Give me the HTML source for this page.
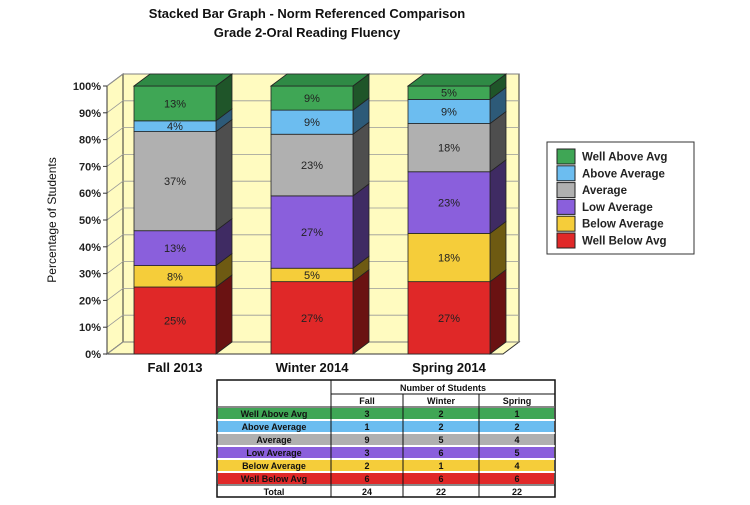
<!DOCTYPE html>
<html><head><meta charset="utf-8"><style>
body{margin:0;background:#fff;width:750px;height:500px;overflow:hidden;font-family:"Liberation Sans",Arial,sans-serif}
svg text{font-family:"Liberation Sans",Arial,sans-serif}
</style></head><body>
<svg id="c" width="750" height="500" viewBox="0 0 750 500">
<text x="307" y="18" text-anchor="middle" font-size="13" font-weight="bold" fill="#111">Stacked Bar Graph - Norm Referenced Comparison</text>
<text x="307" y="37" text-anchor="middle" font-size="13" font-weight="bold" fill="#111">Grade 2-Oral Reading Fluency</text>
<text transform="translate(56,220) rotate(-90)" text-anchor="middle" font-size="12" fill="#111">Percentage of Students</text>
<g id="plot"></g>
<g id="legend"></g>
<g id="table"></g>
</svg>
<script>
const categories=["Fall 2013","Winter 2014","Spring 2014"];
const seriesNames=["Well Below Avg","Below Average","Low Average","Average","Above Average","Well Above Avg"];
const wellBelow=[25,27,27];
const below=[8,5,18];
const low=[13,27,23];
const average=[37,23,18];
const above=[4,9,9];
const wellAbove=[13,9,5];
const yTicks=[0,10,20,30,40,50,60,70,80,90,100];
const tableCols=["Fall","Winter","Spring"];
const countsWellAbove=[3,2,1];
const countsAbove=[1,2,2];
const countsAverage=[9,5,4];
const countsLow=[3,6,5];
const countsBelow=[2,1,4];
const countsWellBelow=[6,6,6];
const totals=[24,22,22];

const NS="http://www.w3.org/2000/svg";
const colors=["#e02828","#f5cd3a","#8a5fdc","#b0b0b0","#6cbdf0","#3fa655"];
const sideColors=["#6a1212","#6e5a12","#3f2b63","#4e4e4e","#2d5a78","#1f5529"];
const topColors=["#b02020","#c8a72e","#6e4bb4","#8d8d8d","#569ac6","#2f8a45"];
const series=[wellBelow,below,low,average,above,wellAbove];
const X0=107,Y0=354,Y100=86,DX=16,DY=-12;
const y=v=>Y0-(v/100)*(Y0-Y100);
const bw=82, step=137, firstX=134;
const xb=i=>firstX+i*step;
function el(tag,attrs,parent){const e=document.createElementNS(NS,tag);for(const k in attrs)e.setAttribute(k,attrs[k]);parent.appendChild(e);return e;}
const plot=document.getElementById('plot');
// walls
let w=el('polygon',{points:`${X0},${Y0} ${X0+DX},${Y0+DY} ${X0+DX},${Y100+DY} ${X0},${Y100}`,fill:'#fffbc0',stroke:'#333','stroke-width':1},plot);

const R=519;
w=el('rect',{x:X0+DX,y:Y100+DY,width:R-X0-DX,height:Y0-Y100,fill:'#fffbc0',stroke:'#333','stroke-width':1},plot);

w=el('polygon',{points:`${X0},${Y0} ${X0+DX},${Y0+DY} ${R},${Y0+DY} ${R-DX},${Y0}`,fill:'#fffbc0',stroke:'#333','stroke-width':1},plot);

yTicks.forEach(t=>{
  const g=el('polyline',{points:`${X0},${y(t)} ${X0+DX},${y(t)+DY} ${R},${y(t)+DY}`,fill:'none',stroke:'#999','stroke-width':0.8},plot);
  
  const tl=el('line',{x1:X0-4,y1:y(t),x2:X0,y2:y(t),stroke:'#333'},plot);
  
  const tx=el('text',{x:X0-6,y:y(t)+4,'text-anchor':'end','font-size':11,'font-weight':'bold',fill:'#222'},plot);
  tx.textContent=t+'%';
  
});
el('line',{x1:X0,y1:Y0,x2:X0,y2:Y100,stroke:'#333'},plot);
categories.forEach((c,i)=>{
  let cum=0;const x=xb(i);
  series.forEach((s,k)=>{
    const v=s[i];const y1=y(cum),y2=y(cum+v);cum+=v;
    const g=el('g',{},plot);
    
    
    el('polygon',{points:`${x+bw},${y1} ${x+bw+DX},${y1+DY} ${x+bw+DX},${y2+DY} ${x+bw},${y2}`,fill:sideColors[k],stroke:'#222','stroke-width':0.8},g);
    el('rect',{x:x,y:y2,width:bw,height:y1-y2,fill:colors[k],stroke:'#222','stroke-width':0.8},g);
    if(k===series.length-1)el('polygon',{points:`${x},${y2} ${x+DX},${y2+DY} ${x+bw+DX},${y2+DY} ${x+bw},${y2}`,fill:topColors[k],stroke:'#222','stroke-width':0.8},g);
    const t=el('text',{x:x+bw/2,y:(y1+y2)/2+4,'text-anchor':'middle','font-size':11,fill:'#222'},g);
    t.textContent=v+'%';
  });
  const lab=el('text',{x:x+bw/2,y:372,'text-anchor':'middle','font-size':13,'font-weight':'bold','font-family':'Liberation Serif',fill:'#111'},plot);
  lab.setAttribute('font-family','"Liberation Serif",serif');
  lab.textContent=c;
  
});
// legend
const lg=document.getElementById('legend');
const lb=el('rect',{x:547,y:142,width:147,height:112,fill:'#fff',stroke:'#333','stroke-width':1},lg);

for(let k=5;k>=0;k--){
  const r=5-k;const cy=156+r*16.8;
  const g=el('g',{},lg);
  
  
  el('rect',{x:557,y:cy-7,width:18,height:15,fill:colors[k],stroke:'#222','stroke-width':1},g);
  const t=el('text',{x:582,y:cy+4.5,'font-size':11.5,'font-weight':'bold',fill:'#222'},g);
  t.textContent=seriesNames[k];
}
// table
const tb=document.getElementById('table');
const colX=[217,331,403,479,555];
const rowsLabels=["Well Above Avg","Above Average","Average","Low Average","Below Average","Well Below Avg"];
const rowsData=[countsWellAbove,countsAbove,countsAverage,countsLow,countsBelow,countsWellBelow];
const rowColors=["#3fa655","#6cbdf0","#b0b0b0","#8a5fdc","#f5cd3a","#e02828"];
let tr=el('rect',{x:217,y:380,width:338,height:117,fill:'#fff',stroke:'#111','stroke-width':1.5},tb);

let h=el('text',{x:443,y:391,'text-anchor':'middle','font-size':9,'font-weight':'bold',fill:'#111'},tb);
h.textContent='Number of Students';

el('line',{x1:331,y1:380,x2:331,y2:497,stroke:'#111'},tb);
el('line',{x1:331,y1:394,x2:555,y2:394,stroke:'#111'},tb);
tableCols.forEach((c,j)=>{
  const t=el('text',{x:(colX[j+1]+colX[j+2])/2,y:404,'text-anchor':'middle','font-size':9,'font-weight':'bold',fill:'#111'},tb);
  t.textContent=c;
  
  if(j>0)el('line',{x1:colX[j+1],y1:394,x2:colX[j+1],y2:497,stroke:'#111'},tb);
});
const rh=13;
rowsLabels.forEach((lab,r)=>{
  const ry=407+r*rh;
  const g=el('g',{},tb);
  
  
  el('rect',{x:218,y:ry+1,width:336,height:rh-2,fill:rowColors[r]},g);
  el('line',{x1:217,y1:ry,x2:555,y2:ry,stroke:'#fff','stroke-width':1.5},g);
  const t=el('text',{x:274,y:ry+10,'text-anchor':'middle','font-size':9,'font-weight':'bold',fill:'#111'},g);
  t.textContent=lab;
  rowsData[r].forEach((v,j)=>{
    const d=el('text',{x:(colX[j+1]+colX[j+2])/2,y:ry+10,'text-anchor':'middle','font-size':9,'font-weight':'bold',fill:'#111'},g);
    d.textContent=v;
  });
});
el('line',{x1:217,y1:485,x2:555,y2:485,stroke:'#111'},tb);
el('line',{x1:217,y1:407,x2:555,y2:407,stroke:'#111'},tb);
[331,403,479].forEach(x=>el('line',{x1:x,y1:394,x2:x,y2:497,stroke:'#111'},tb));
const tt=el('text',{x:274,y:495,'text-anchor':'middle','font-size':9,'font-weight':'bold',fill:'#111'},tb);
tt.textContent='Total';

totals.forEach((v,j)=>{
  const d=el('text',{x:(colX[j+1]+colX[j+2])/2,y:495,'text-anchor':'middle','font-size':9,'font-weight':'bold',fill:'#111'},tb);
  d.textContent=v;
  
});
</script>
</body></html>
